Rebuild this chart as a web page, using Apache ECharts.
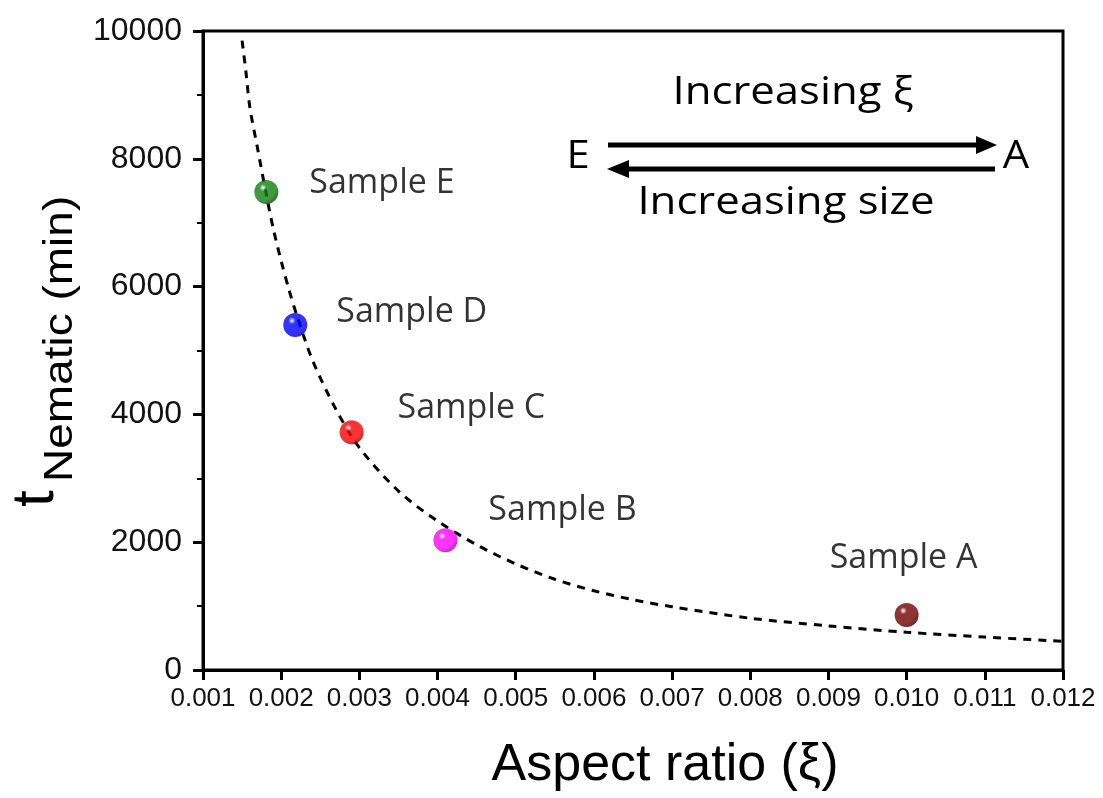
<!DOCTYPE html>
<html>
<head>
<meta charset="utf-8">
<script src="https://cdn.jsdelivr.net/npm/echarts@6/dist/echarts.min.js"></script>
<style>
  html, body { margin: 0; padding: 0; background: #ffffff; }
  #chart { width: 1103px; height: 798px; }
</style>
</head>
<body>
<div id="chart"></div>
<script>
// Measured samples: aspect ratio vs. time to reach the nematic phase
const sampleNames = ['Sample A', 'Sample B', 'Sample C', 'Sample D', 'Sample E'];
const aspectRatio = [0.0100, 0.0041, 0.0029, 0.00218, 0.00181];
const tNematic = [860, 2030, 3720, 5400, 7480];
const sampleColors = ['#730000', '#ff00ff', '#ff0000', '#0000ff', '#108010'];
const sampleShades = ['#2a0000', '#8a008a', '#8a0000', '#000080', '#043804'];

// Fitted trend (dashed curve)
const fitX = [0.0015, 0.00155, 0.0016, 0.0017, 0.0018, 0.0019, 0.0020, 0.0021, 0.0022, 0.0024,
              0.0027, 0.0030, 0.0035, 0.0040, 0.0045, 0.0050, 0.0055, 0.0060, 0.0065, 0.0070,
              0.0080, 0.0090, 0.0100, 0.0110, 0.0120];
const fitY = [9850, 9350, 8800, 8150, 7500, 6900, 6400, 5950, 5550, 4850,
              4080, 3480, 2800, 2330, 1960, 1660, 1420, 1240, 1100, 990,
              810, 690, 590, 515, 450];

// Axis ranges and tick spacing
const xRange = [0.001, 0.012, 0.001];
const yRange = [0, 10000, 2000];

const AXIS_FONT = '"Liberation Sans", Arial, sans-serif';
const TEXT_FONT = '"Open Sans", "Noto Sans", sans-serif';

// label placement around each sphere (A..E)
const labelPlacement = [
  { position: 'top', offset: [-3, -23] },
  { position: 'right', offset: [26, -30] },
  { position: 'right', offset: [29, -24] },
  { position: 'right', offset: [24, -13] },
  { position: 'right', offset: [26, -9] }
];

function sphere(base, shade) {
  return new echarts.graphic.RadialGradient(0.36, 0.32, 0.75, [
    { offset: 0, color: '#ffffff' },
    { offset: 0.2, color: base },
    { offset: 0.7, color: base },
    { offset: 1, color: shade }
  ]);
}

const fitData = fitX.map((x, i) => [x, fitY[i]]);
const pointData = sampleNames.map((name, i) => ({
  name: name,
  value: [aspectRatio[i], tNematic[i]],
  itemStyle: { color: sphere(sampleColors[i], sampleShades[i]) },
  label: {
    show: true,
    formatter: name,
    position: labelPlacement[i].position,
    offset: labelPlacement[i].offset,
    distance: 5,
    color: '#000',
    fontFamily: TEXT_FONT,
    fontWeight: 500,
    fontSize: 34
  }
}));

const chart = echarts.init(document.getElementById('chart'), null, { renderer: 'canvas' });

const axisLineStyle = { color: '#000', width: 3 };

chart.setOption({
  backgroundColor: '#ffffff',
  animation: false,
  grid: {
    left: 203, right: 40, top: 31, bottom: 128,
    containLabel: false,
    outerBoundsMode: 'none',
    show: true, borderColor: '#000', borderWidth: 3, backgroundColor: 'transparent'
  },
  xAxis: {
    type: 'value',
    min: xRange[0], max: xRange[1], interval: xRange[2],
    axisLine: { show: true, onZero: false, lineStyle: axisLineStyle },
    axisTick: { show: true, inside: false, length: 10, lineStyle: axisLineStyle },
    splitLine: { show: false },
    axisLabel: {
      margin: 16,
      color: '#111',
      fontFamily: AXIS_FONT,
      fontSize: 26,
      formatter: v => v.toFixed(3)
    },
    name: 'Aspect ratio (ξ)',
    nameLocation: 'middle',
    nameGap: 70,
    nameTextStyle: {
      color: '#000',
      fontFamily: AXIS_FONT,
      fontSize: 52,
      padding: [0, 0, 0, 64]
    }
  },
  yAxis: {
    type: 'value',
    min: yRange[0], max: yRange[1], interval: yRange[2],
    axisLine: { show: true, onZero: false, lineStyle: axisLineStyle },
    axisTick: { show: true, inside: false, length: 10, lineStyle: axisLineStyle },
    minorTick: { show: true, splitNumber: 2, length: 6, lineStyle: { color: '#000', width: 2 } },
    splitLine: { show: false },
    axisLabel: {
      margin: 21,
      color: '#111',
      fontFamily: AXIS_FONT,
      fontSize: 32,
      formatter: v => String(Math.round(v))
    }
  },
  series: [
    {
      type: 'line',
      data: fitData,
      showSymbol: false,
      symbol: 'none',
      smooth: 0.3,
      silent: true,
      z: 2,
      lineStyle: { color: '#000', width: 3, type: [8, 7] }
    },
    {
      type: 'scatter',
      data: pointData,
      symbol: 'circle',
      symbolSize: 24,
      z: 5
    }
  ],
  graphic: [
    // y-axis title: t with subscript "Nematic (min)"
    {
      type: 'text', x: 36, y: 507, rotation: Math.PI / 2,
      style: {
        text: 't', fill: '#000', font: '60px ' + AXIS_FONT,
        align: 'left', textAlign: 'left', verticalAlign: 'middle', textVerticalAlign: 'middle'
      }
    },
    {
      type: 'text', x: 61, y: 482, rotation: Math.PI / 2, scaleX: 1.15,
      style: {
        text: 'Nematic (min)', fill: '#000', font: '40px ' + AXIS_FONT,
        align: 'left', textAlign: 'left', verticalAlign: 'middle', textVerticalAlign: 'middle'
      }
    },
    // direction annotation
    {
      type: 'text', x: 793, y: 93, scaleX: 1.15,
      style: {
        text: 'Increasing ξ', fill: '#000', font: '500 38px ' + TEXT_FONT,
        align: 'center', textAlign: 'center', verticalAlign: 'middle', textVerticalAlign: 'middle'
      }
    },
    {
      type: 'text', x: 786, y: 203, scaleX: 1.15,
      style: {
        text: 'Increasing size', fill: '#000', font: '500 38px ' + TEXT_FONT,
        align: 'center', textAlign: 'center', verticalAlign: 'middle', textVerticalAlign: 'middle'
      }
    },
    {
      type: 'text', x: 578, y: 157, scaleX: 1.1,
      style: {
        text: 'E', fill: '#000', font: '500 38px ' + TEXT_FONT,
        align: 'center', textAlign: 'center', verticalAlign: 'middle', textVerticalAlign: 'middle'
      }
    },
    {
      type: 'text', x: 1016, y: 157, scaleX: 1.1,
      style: {
        text: 'A', fill: '#000', font: '500 38px ' + TEXT_FONT,
        align: 'center', textAlign: 'center', verticalAlign: 'middle', textVerticalAlign: 'middle'
      }
    },
    {
      type: 'line', shape: { x1: 608, y1: 145, x2: 980, y2: 145 },
      style: { stroke: '#000', lineWidth: 5 }
    },
    {
      type: 'polygon', shape: { points: [[976, 136], [997, 145], [976, 154]] },
      style: { fill: '#000' }
    },
    {
      type: 'line', shape: { x1: 625, y1: 169, x2: 995, y2: 169 },
      style: { stroke: '#000', lineWidth: 5 }
    },
    {
      type: 'polygon', shape: { points: [[629, 160], [607, 169], [629, 178]] },
      style: { fill: '#000' }
    }
  ]
});
</script>
</body>
</html>
